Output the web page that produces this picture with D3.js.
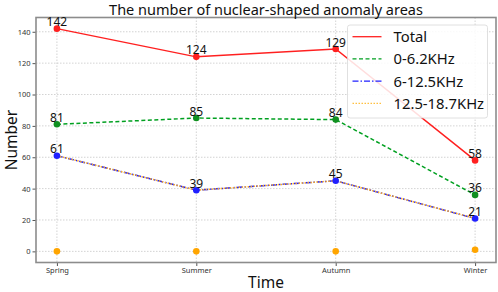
<!DOCTYPE html>
<html>
<head>
<meta charset="utf-8">
<script src="https://cdn.jsdelivr.net/npm/d3@7"></script>
<style>
    body { margin: 0; background: #fff; }
    text { font-family: "Noto Sans", "Open Sans", sans-serif; }
</style>
</head>
<body>
<div id="chart"></div>
<script>
// data
var seasons = ['Spring', 'Summer', 'Autumn', 'Winter'];
var total = [142, 124, 129, 58];
var band1 = [81, 85, 84, 36];
var band2 = [61, 39, 45, 21];
var band3Line = [61, 39, 45, 21];   // dotted orange line runs over the blue one
var band3Points = [0, 0, 0, 1];
var yTicks = [0, 20, 40, 60, 80, 100, 120, 140];

var svg = d3.select('#chart')
    .append('svg')
    .attr('width', 498)
    .attr('height', 292);

var plotLeft = 36, plotTop = 17.5, plotRight = 496, plotBottom = 262.5;

var x = d3.scaleLinear().domain([-0.15, 3.15]).range([plotLeft, plotRight]);
var y = d3.scaleLinear().domain([-7.1, 149.1]).range([plotBottom, plotTop]);

// grid
svg.append('g')
    .selectAll('line')
    .data(yTicks)
    .enter()
    .append('line')
    .attr('x1', plotLeft).attr('x2', plotRight)
    .attr('y1', function(d) { return y(d); })
    .attr('y2', function(d) { return y(d); })
    .attr('stroke', '#c8c8c8')
    .attr('stroke-width', 0.8)
    .attr('stroke-dasharray', '1.5,1.5');

svg.append('g')
    .selectAll('line')
    .data(seasons)
    .enter()
    .append('line')
    .attr('x1', function(d, i) { return x(i); })
    .attr('x2', function(d, i) { return x(i); })
    .attr('y1', plotTop).attr('y2', plotBottom)
    .attr('stroke', '#c8c8c8')
    .attr('stroke-width', 0.8)
    .attr('stroke-dasharray', '1.5,1.5');

// axes
var xAxis = svg.append('g')
    .attr('transform', 'translate(0,' + plotBottom + ')')
    .call(d3.axisBottom(x).tickValues([0, 1, 2, 3]).tickFormat(function(d) {
        return seasons[d];
    }).tickSizeOuter(0).tickSize(3.5).tickPadding(2));
xAxis.selectAll('text').attr('font-size', '7.5px').attr('fill', '#333');

var yAxis = svg.append('g')
    .attr('transform', 'translate(' + plotLeft + ',0)')
    .call(d3.axisLeft(y).tickValues(yTicks).tickSizeOuter(0).tickSize(3.5).tickPadding(2));
yAxis.selectAll('text').attr('font-size', '7.5px').attr('fill', '#333');

svg.selectAll('.domain').remove();
svg.selectAll('.tick line').attr('stroke', '#555');

// frame
svg.append('rect')
    .attr('x', plotLeft).attr('y', plotTop)
    .attr('width', plotRight - plotLeft).attr('height', plotBottom - plotTop)
    .attr('fill', 'none')
    .attr('stroke', '#8c8c8c')
    .attr('stroke-width', 1.6);

var line = d3.line()
    .x(function(d, i) { return x(i); })
    .y(function(d) { return y(d); });

function drawSeries(vals, color, dash) {
    svg.append('path')
        .datum(vals)
        .attr('d', line)
        .attr('fill', 'none')
        .attr('stroke', color)
        .attr('stroke-width', 1.5)
        .attr('stroke-dasharray', dash);
}

function drawPoints(vals, color, labels) {
    svg.append('g')
        .selectAll('circle')
        .data(vals)
        .enter()
        .append('circle')
        .attr('cx', function(d, i) { return x(i); })
        .attr('cy', function(d) { return y(d); })
        .attr('r', 3.3)
        .attr('fill', color);
    if (labels) {
        svg.append('g')
            .selectAll('text')
            .data(vals)
            .enter()
            .append('text')
            .attr('x', function(d, i) { return x(i); })
            .attr('y', function(d) { return y(d) - 2.5; })
            .attr('text-anchor', 'middle')
            .attr('font-size', '12px')
            .attr('fill', '#111')
            .text(function(d) { return d; });
    }
}

drawSeries(total, '#ff2020', null);
drawSeries(band1, '#00a020', '4,2.5');
drawSeries(band2, '#2020ff', '6,2,1.5,2');
drawSeries(band3Line, '#ffb020', '1.5,1.5');
drawPoints(total, '#ff2020', true);
drawPoints(band1, '#109020', true);
drawPoints(band2, '#2020ff', true);
drawPoints(band3Points, '#ffa500', false);

// title and axis labels
svg.append('text')
    .attr('x', (plotLeft + plotRight) / 2)
    .attr('y', 14.5)
    .attr('text-anchor', 'middle')
    .attr('font-size', '14.5px')
    .attr('fill', '#111')
    .text('The number of nuclear-shaped anomaly areas');

svg.append('text')
    .attr('x', (plotLeft + plotRight) / 2)
    .attr('y', 288)
    .attr('text-anchor', 'middle')
    .attr('font-size', '15.5px')
    .attr('fill', '#111')
    .text('Time');

svg.append('text')
    .attr('transform', 'translate(16.5,' + (plotTop + plotBottom) / 2 + ') rotate(-90)')
    .attr('text-anchor', 'middle')
    .attr('font-size', '15.5px')
    .attr('fill', '#111')
    .text('Number');

// legend
var legendNames = ['Total', '0-6.2KHz', '6-12.5KHz', '12.5-18.7KHz'];
var legendColors = ['#ff2020', '#00a020', '#2020ff', '#ffc040'];
var legendDash = [null, '4,2.5', '6,2,1.5,2', '1.5,1.5'];

var lg = svg.append('g').attr('transform', 'translate(347.5,25)');
lg.append('rect')
    .attr('width', 140).attr('height', 93)
    .attr('rx', 2.5)
    .attr('fill', 'rgba(255,255,255,0.85)')
    .attr('stroke', '#d8d8d8')
    .attr('stroke-width', 0.8);

var items = lg.selectAll('.item')
    .data(legendNames)
    .enter()
    .append('g')
    .attr('transform', function(d, i) { return 'translate(0,' + (11.7 + i * 22.2) + ')'; });

items.append('line')
    .attr('x1', 5).attr('x2', 34)
    .attr('stroke', function(d, i) { return legendColors[i]; })
    .attr('stroke-width', 1.3)
    .attr('stroke-dasharray', function(d, i) { return legendDash[i]; });

items.append('text')
    .attr('x', 46)
    .attr('y', 5.5)
    .attr('font-size', '14.8px')
    .attr('fill', '#111')
    .text(function(d) { return d; });
</script>
</body>
</html>
